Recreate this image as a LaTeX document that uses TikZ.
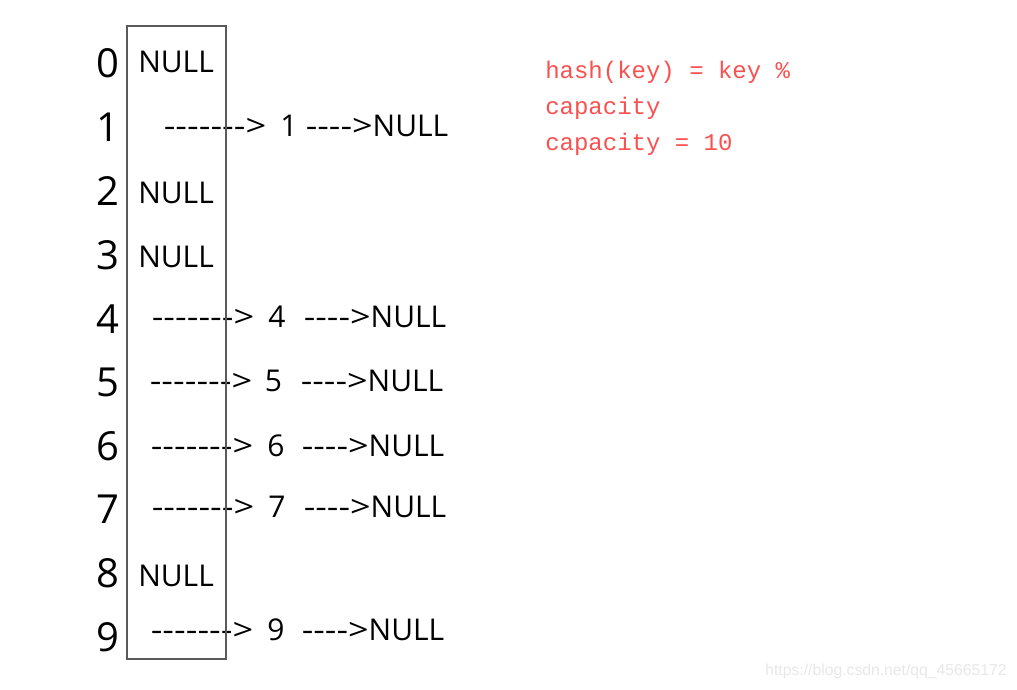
\documentclass[tikz,border=0pt]{standalone}
\usepackage{fontspec}
\usepackage{graphicx}
\setmainfont{Open Sans}
\newfontfamily\redmono{Liberation Mono}
\newfontfamily\wmfont{Liberation Sans}
\definecolor{hashred}{RGB}{250,80,80}
\definecolor{boxgray}{RGB}{90,90,90}
\definecolor{wmgray}{RGB}{232,232,232}
\newcommand\longarrow{\scalebox{1.21}[1]{-{}-{}-{}-{}-{}-{}->}}
\newcommand\shortarrow{\scalebox{1.2}[1]{-{}-{}-{}->}}
\begin{document}
\begin{tikzpicture}[x=0.75pt,y=-0.75pt,
  idx/.style={anchor=base,inner sep=0pt,font=\fontsize{30}{36}\selectfont},
  nul/.style={anchor=base west,inner sep=0pt,font=\fontsize{22.5}{27}\selectfont},
  chain/.style={anchor=base west,inner sep=0pt,font=\fontsize{22.5}{27}\selectfont},
  key/.style={anchor=base,inner sep=0pt,font=\fontsize{22.5}{27}\selectfont},
  note/.style={anchor=base west,inner sep=0pt,text=hashred,font=\redmono\fontsize{18}{22}\selectfont},
  tablebox/.style={draw=boxgray,line width=1pt}]
\useasboundingbox (0,0) rectangle (1017,689);
\fill[white] (0,0) rectangle (1017,689);

% index digits
\node[idx] (i0) at (108,77.5) {0};
\node[idx] (i1) at (108,141.5) {1};
\node[idx] (i2) at (108,205.5) {2};
\node[idx] (i3) at (108,269.5) {3};
\node[idx] (i4) at (108,333) {4};
\node[idx] (i5) at (108,396.5) {5};
\node[idx] (i6) at (108,460) {6};
\node[idx] (i7) at (108,523.5) {7};
\node[idx] (i8) at (108,587.5) {8};
\node[idx] (i9) at (108,651) {9};

% NULL entries in table
\node[nul] (n0) at (138,72) {NULL};
\node[nul] (n2) at (138,203) {NULL};
\node[nul] (n3) at (138,267) {NULL};
\node[nul] (n8) at (138,586) {NULL};

% chains
\node[chain] (a1) at (163.5,136) {\longarrow};
\node[key] (k1) at (289,136) {1};
\node[chain] (b1) at (305.5,136) {\shortarrow NULL};

\node[chain] (a4) at (151.5,327) {\longarrow};
\node[key] (k4) at (277,327) {4};
\node[chain] (b4) at (303.5,327) {\shortarrow NULL};

\node[chain] (a5) at (149.5,391) {\longarrow};
\node[key] (k5) at (273.5,391) {5};
\node[chain] (b5) at (300.5,391) {\shortarrow NULL};

\node[chain] (a6) at (150.5,456) {\longarrow};
\node[key] (k6) at (276,456) {6};
\node[chain] (b6) at (301.5,456) {\shortarrow NULL};

\node[chain] (a7) at (151.5,517) {\longarrow};
\node[key] (k7) at (277,517) {7};
\node[chain] (b7) at (303.5,517) {\shortarrow NULL};

\node[chain] (a9) at (150.5,640) {\longarrow};
\node[key] (k9) at (276,640) {9};
\node[chain] (b9) at (301.5,640) {\shortarrow NULL};

% table box
\draw[tablebox] (127,26) rectangle (226,659);

% note
\node[note] (h1) at (545,78) {hash(key) = key \%};
\node[note] (h2) at (545,114) {capacity};
\node[note] (h3) at (545,150) {capacity = 10};

% watermark
\node[anchor=base east,inner sep=0pt,text=wmgray,font=\wmfont\fontsize{11.8}{14}\selectfont] (wm) at (1007,675) {https://blog.csdn.net/qq\_45665172};
\end{tikzpicture}
\end{document}
